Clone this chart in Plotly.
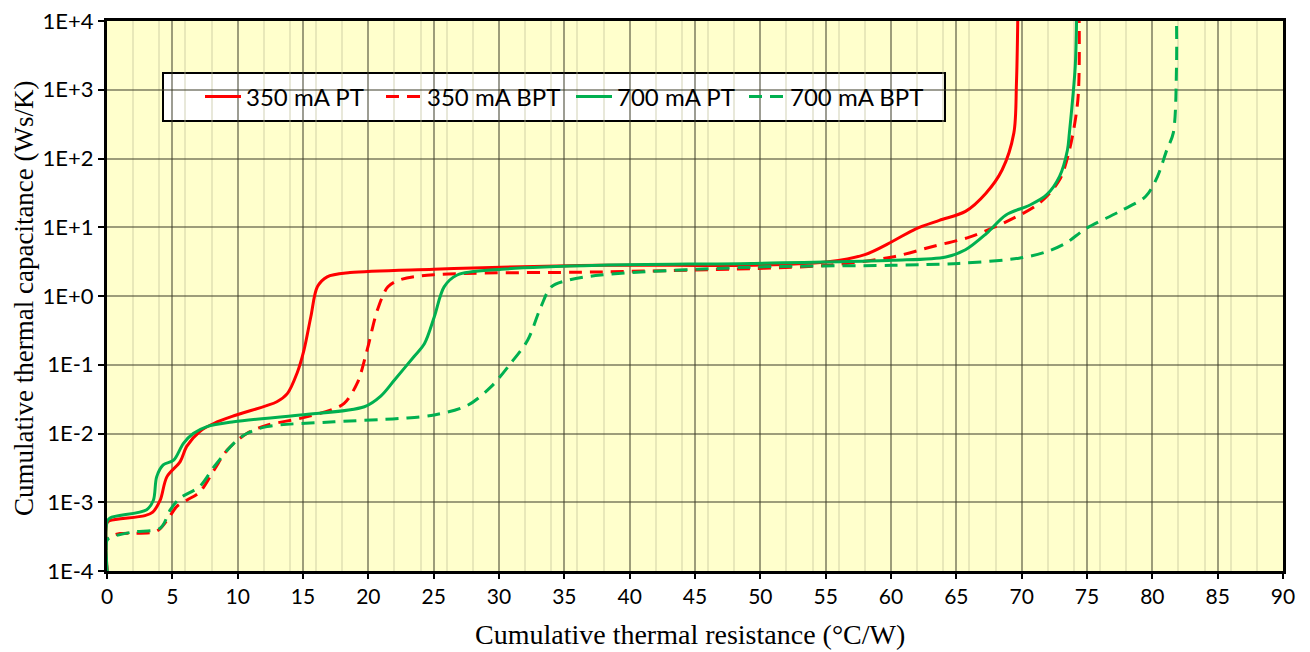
import plotly.graph_objects as go

# cumulative thermal resistance (°C/W) vs cumulative thermal capacitance (Ws/K)
pt350_x = [0.0, 0.0, 0.2, 2.9, 3.5, 4.07, 4.58, 5.6, 6.1, 7.1, 8.2, 9.9, 13.0, 13.8,
           14.55, 15.07, 15.6, 16.1, 16.85, 18.6, 25.0, 37.8, 49.5, 55.2, 58.0, 60.1,
           61.9, 63.7, 65.7, 67.25, 68.5, 69.4, 69.6, 69.7]
pt350_y = [1e-4, 5.0e-4, 5.4e-4, 6.4e-4, 7.2e-4, 1.07e-3, 2.34e-3, 3.9e-3, 6.5e-3,
           1.07e-2, 1.41e-2, 1.86e-2, 2.9e-2, 3.8e-2, 7.6e-2, 0.162, 0.50, 1.36, 1.9,
           2.19, 2.45, 2.8, 2.8, 3.15, 4.0, 6.2, 9.5, 12.6, 17.0, 31.0, 68.0, 234,
           1230, 10000]

bpt350_x = [0.0, 0.0, 0.3, 1.0, 3.8, 4.6, 5.35, 6.1, 7.1, 8.2, 9.2, 10.7, 12.25, 14.8,
            17.1, 18.15, 19.15, 19.9, 20.7, 21.5, 22.5, 25.0, 37.8, 49.3, 55.2, 60.1,
            63.2, 66.0, 68.8, 71.35, 72.9, 73.65, 74.3, 74.4]
bpt350_y = [1e-4, 2.9e-4, 3.2e-4, 3.5e-4, 3.8e-4, 5.5e-4, 8.7e-4, 1.07e-3, 1.41e-3,
            2.95e-3, 5.75e-3, 1.0e-2, 1.32e-2, 1.66e-2, 2.19e-2, 2.75e-2, 5.4e-2, 0.162,
            0.63, 1.36, 1.74, 2.04, 2.24, 2.5, 2.8, 3.7, 5.25, 7.2, 12.0, 22.4, 49.0,
            132, 708, 10000]

pt700_x = [0.0, 0.0, 0.23, 3.04, 3.55, 3.8, 4.3, 5.1, 5.85, 6.6, 7.65, 9.7, 14.8,
           19.7, 20.95, 22.0, 23.5, 24.3, 25.05, 25.8, 26.8, 30.2, 37.8, 49.3, 60.1,
           64.2, 65.7, 67.3, 68.8, 70.6, 71.9, 72.9, 73.5, 73.65, 74.1, 74.2]
pt700_y = [1e-4, 5.2e-4, 5.9e-4, 7.8e-4, 1.07e-3, 2.34e-3, 3.5e-3, 4.1e-3, 7.2e-3,
           1.0e-2, 1.26e-2, 1.48e-2, 1.86e-2, 2.45e-2, 3.5e-2, 6.0e-2, 0.132, 0.204,
           0.50, 1.36, 2.02, 2.45, 2.8, 2.98, 3.3, 3.7, 4.7, 8.1, 15.1, 20.9, 29.5,
           55.0, 132, 234, 2190, 10000]

bpt700_x = [0.0, 0.0, 0.3, 2.0, 4.07, 4.85, 5.6, 7.1, 8.2, 9.7, 10.7, 12.25, 17.4,
            22.5, 25.05, 27.6, 29.4, 30.9, 32.2, 33.2, 34.0, 35.3, 37.8, 49.3, 60.1,
            65.2, 69.8, 71.9, 73.4, 74.9, 77.5, 79.5, 80.4, 81.1, 81.6, 81.85, 81.85]
bpt700_y = [1e-4, 2.8e-4, 3.1e-4, 3.7e-4, 4.2e-4, 7.8e-4, 1.15e-3, 1.7e-3, 3.3e-3,
            7.2e-3, 1.0e-2, 1.26e-2, 1.48e-2, 1.66e-2, 1.86e-2, 2.57e-2, 4.8e-2, 0.105,
            0.229, 0.69, 1.36, 1.7, 2.02, 2.63, 2.8, 2.98, 3.55, 4.4, 5.9, 9.5, 17.0,
            28.2, 55.0, 132, 234, 2190, 10000]

y_ticks = [1e-4, 1e-3, 1e-2, 1e-1, 1e0, 1e1, 1e2, 1e3, 1e4]
y_labels = ['1E-4', '1E-3', '1E-2', '1E-1', '1E+0', '1E+1', '1E+2', '1E+3', '1E+4']

RED = '#FF0000'
GREEN = '#00B050'
DASH = '13px,8px'

# the page body adds 8px round the figure, so the figure is 8px smaller
OFF = 8
# plot area in page pixels: x 107..1283, y 21..571
PW, PH = 1176, 550


def px_x(px):
    return (px - 107) / PW


def px_y(py):
    return (571 - py) / PH


series = [
    ('350 mA PT', pt350_x, pt350_y, RED, 'solid', 'legend', 200),
    ('350 mA BPT', bpt350_x, bpt350_y, RED, DASH, 'legend2', 381),
    ('700 mA PT', pt700_x, pt700_y, GREEN, 'solid', 'legend3', 571),
    ('700 mA BPT', bpt700_x, bpt700_y, GREEN, DASH, 'legend4', 744),
]

fig = go.Figure()
legends = {}
for name, xs, ys, color, dash, leg, leg_px in series:
    fig.add_trace(go.Scatter(x=xs, y=ys, mode='lines', name=name, legend=leg,
                             line=dict(color=color, width=3, dash=dash, shape='spline',
                                       smoothing=0.9)))
    legends[leg] = dict(x=px_x(leg_px), y=px_y(97), xanchor='left', yanchor='middle',
                        orientation='h', bgcolor='rgba(0,0,0,0)', borderwidth=0,
                        font=dict(family='Lato', size=24), itemwidth=36)

# legend box
fig.add_shape(type='rect', xref='paper', yref='paper', layer='between',
              x0=px_x(163), x1=px_x(945), y0=px_y(121), y1=px_y(73),
              fillcolor='white', line=dict(color='black', width=2))

# axis titles
fig.add_annotation(text='Cumulative thermal resistance (°C/W)', xref='paper', yref='paper',
                   x=px_x(690), y=px_y(634), showarrow=False,
                   xanchor='center', yanchor='middle',
                   font=dict(family='Liberation Serif', size=28))
fig.add_annotation(text='Cumulative thermal capacitance (Ws/K)', xref='paper', yref='paper',
                   x=px_x(24), y=px_y(298), showarrow=False, textangle=-90,
                   xanchor='center', yanchor='middle',
                   font=dict(family='Liberation Serif', size=27))

fig.update_layout(
    width=1310 - OFF, height=652 - OFF,
    margin=dict(l=107 - OFF, r=27, t=21 - OFF, b=81),
    paper_bgcolor='white',
    plot_bgcolor='#FFFFCC',
    font=dict(family='Lato', color='black', size=21),
    showlegend=True,
    **legends,
)

fig.update_xaxes(
    range=[0, 90], tick0=0, dtick=5, automargin=False,
    showline=True, linecolor='black', linewidth=3, mirror=True,
    ticks='outside', ticklen=5, tickcolor='black', tickwidth=2,
    showgrid=True, gridcolor='rgba(60,60,40,0.5)', gridwidth=1.5,
    minor=dict(tick0=0, dtick=2, showgrid=True, gridcolor='rgba(190,190,150,0.35)',
               gridwidth=2),
    zeroline=False,
    tickfont=dict(family='Lato', size=21),
    ticklabeloverflow='allow',
)
fig.update_yaxes(
    type='log', range=[-4, 4], automargin=False,
    tickvals=y_ticks, ticktext=y_labels,
    showline=True, linecolor='black', linewidth=3, mirror=True,
    ticks='outside', ticklen=6, tickcolor='black', tickwidth=2,
    showgrid=True, gridcolor='rgba(60,60,40,0.5)', gridwidth=1.5,
    zeroline=False,
    tickfont=dict(family='Lato', size=22),
    ticklabeloverflow='allow',
)

fig.write_html('out.html')
